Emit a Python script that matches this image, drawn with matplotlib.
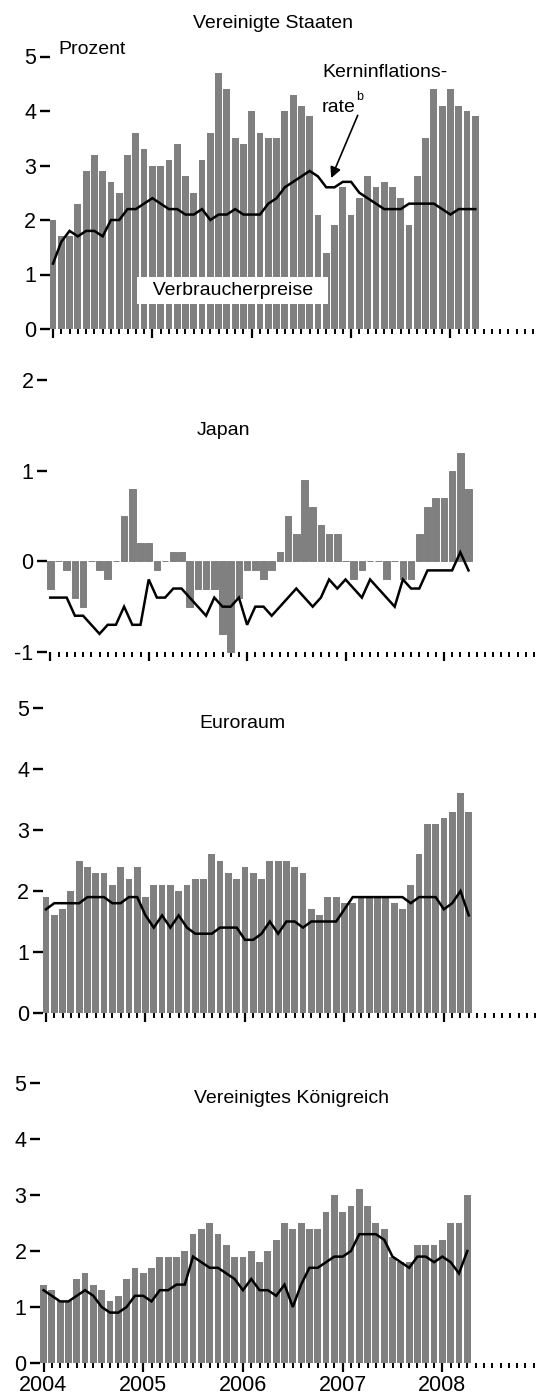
import numpy as np
import matplotlib
matplotlib.use("Agg")
import matplotlib.pyplot as plt
from matplotlib import font_manager

# ---------------- data (monthly, Jan 2004 - Apr 2008) ----------------
years = ["2004", "2005", "2006", "2007", "2008"]

us_cpi = [2.0, 1.7, 1.7, 2.3, 2.9, 3.2, 2.9, 2.7, 2.5, 3.2, 3.6, 3.3,
          3.0, 3.0, 3.1, 3.4, 2.8, 2.5, 3.1, 3.6, 4.7, 4.4, 3.5, 3.4,
          4.0, 3.6, 3.5, 3.5, 4.0, 4.3, 4.1, 3.9, 2.1, 1.4, 1.9, 2.6,
          2.1, 2.4, 2.8, 2.6, 2.7, 2.6, 2.4, 1.9, 2.8, 3.5, 4.4, 4.1,
          4.4, 4.1, 4.0, 3.9]
us_core = [1.2, 1.6, 1.8, 1.7, 1.8, 1.8, 1.7, 2.0, 2.0, 2.2, 2.2, 2.3,
           2.4, 2.3, 2.2, 2.2, 2.1, 2.1, 2.2, 2.0, 2.1, 2.1, 2.2, 2.1,
           2.1, 2.1, 2.3, 2.4, 2.6, 2.7, 2.8, 2.9, 2.8, 2.6, 2.6, 2.7,
           2.7, 2.5, 2.4, 2.3, 2.2, 2.2, 2.2, 2.3, 2.3, 2.3, 2.3, 2.2,
           2.1, 2.2, 2.2, 2.2]

jp_cpi = [-0.3, 0.0, -0.1, -0.4, -0.5, 0.0, -0.1, -0.2, 0.0, 0.5, 0.8, 0.2,
          0.2, -0.1, 0.0, 0.1, 0.1, -0.5, -0.3, -0.3, -0.3, -0.8, -1.0, -0.4,
          -0.1, -0.1, -0.2, -0.1, 0.1, 0.5, 0.3, 0.9, 0.6, 0.4, 0.3, 0.3,
          0.0, -0.2, -0.1, 0.0, 0.0, -0.2, 0.0, -0.2, -0.2, 0.3, 0.6, 0.7,
          0.7, 1.0, 1.2, 0.8]
jp_core = [-0.4, -0.4, -0.4, -0.6, -0.6, -0.7, -0.8, -0.7, -0.7, -0.5, -0.7, -0.7,
           -0.2, -0.4, -0.4, -0.3, -0.3, -0.4, -0.5, -0.6, -0.4, -0.5, -0.5, -0.4,
           -0.7, -0.5, -0.5, -0.6, -0.5, -0.4, -0.3, -0.4, -0.5, -0.4, -0.2, -0.3,
           -0.2, -0.3, -0.4, -0.2, -0.3, -0.4, -0.5, -0.2, -0.3, -0.3, -0.1, -0.1,
           -0.1, -0.1, 0.1, -0.1]

ea_cpi = [1.9, 1.6, 1.7, 2.0, 2.5, 2.4, 2.3, 2.3, 2.1, 2.4, 2.2, 2.4,
          1.9, 2.1, 2.1, 2.1, 2.0, 2.1, 2.2, 2.2, 2.6, 2.5, 2.3, 2.2,
          2.4, 2.3, 2.2, 2.5, 2.5, 2.5, 2.4, 2.3, 1.7, 1.6, 1.9, 1.9,
          1.8, 1.8, 1.9, 1.9, 1.9, 1.9, 1.8, 1.7, 2.1, 2.6, 3.1, 3.1,
          3.2, 3.3, 3.6, 3.3]
ea_core = [1.7, 1.8, 1.8, 1.8, 1.8, 1.9, 1.9, 1.9, 1.8, 1.8, 1.9, 1.9,
           1.6, 1.4, 1.6, 1.4, 1.6, 1.4, 1.3, 1.3, 1.3, 1.4, 1.4, 1.4,
           1.2, 1.2, 1.3, 1.5, 1.3, 1.5, 1.5, 1.4, 1.5, 1.5, 1.5, 1.5,
           1.7, 1.9, 1.9, 1.9, 1.9, 1.9, 1.9, 1.9, 1.8, 1.9, 1.9, 1.9,
           1.7, 1.8, 2.0, 1.6]

uk_cpi = [1.4, 1.3, 1.1, 1.1, 1.5, 1.6, 1.4, 1.3, 1.1, 1.2, 1.5, 1.7,
          1.6, 1.7, 1.9, 1.9, 1.9, 2.0, 2.3, 2.4, 2.5, 2.3, 2.1, 1.9,
          1.9, 2.0, 1.8, 2.0, 2.2, 2.5, 2.4, 2.5, 2.4, 2.4, 2.7, 3.0,
          2.7, 2.8, 3.1, 2.8, 2.5, 2.4, 1.9, 1.8, 1.8, 2.1, 2.1, 2.1,
          2.2, 2.5, 2.5, 3.0]
uk_core = [1.3, 1.2, 1.1, 1.1, 1.2, 1.3, 1.2, 1.0, 0.9, 0.9, 1.0, 1.2,
           1.2, 1.1, 1.3, 1.3, 1.4, 1.4, 1.9, 1.8, 1.7, 1.7, 1.6, 1.5,
           1.3, 1.5, 1.3, 1.3, 1.2, 1.4, 1.0, 1.4, 1.7, 1.7, 1.8, 1.9,
           1.9, 2.0, 2.3, 2.3, 2.3, 2.2, 1.9, 1.8, 1.7, 1.9, 1.9, 1.8,
           1.9, 1.8, 1.6, 2.0]

titles = ["Vereinigte Staaten", "Japan", "Euroraum", "Vereinigtes Königreich"]

# ---------------- style ----------------
names = {f.name for f in font_manager.fontManager.ttflist}
if "Liberation Sans Narrow" in names:
    FONT, FS, TFS = "Liberation Sans Narrow", 16.5, 17
else:
    FONT, FS, TFS = "Liberation Sans", 14, 15.5
plt.rcParams["font.family"] = [FONT, "DejaVu Sans"]
plt.rcParams["axes.unicode_minus"] = False

W, H = 540, 1400
BAR = "#808080"
fig = plt.figure(figsize=(W / 100, H / 100), dpi=100)


def px_axes(x0, ppm, ybot, ytop, ylim):
    xl, xr = -0.42, 59.6
    left = x0 + xl * ppm
    width = (xr - xl) * ppm
    ax = fig.add_axes([left / W, 1 - ybot / H, width / W, (ybot - ytop) / H])
    ax.set_xlim(xl, xr)
    ax.set_ylim(*ylim)
    for s in ax.spines.values():
        s.set_visible(False)
    ax.set_xticks([0, 12, 24, 36, 48])
    ax.set_xticks([m for m in range(60) if m % 12 != 0], minor=True)
    ax.tick_params(axis="x", which="major", length=6.5, width=1.6,
                   direction="out", labelbottom=False)
    ax.tick_params(axis="x", which="minor", length=3.8, width=1.4,
                   direction="out")
    ax.tick_params(axis="y", which="major", length=7.2, width=1.7,
                   direction="out", pad=2.5, labelsize=TFS)
    return ax


def panel(ax, cpi, core, zero_edges=False):
    m = np.arange(len(cpi))
    if zero_edges:
        ax.bar(m, cpi, width=0.82, color=BAR, edgecolor=BAR, linewidth=0.7,
               zorder=2, clip_on=False)
    else:
        ax.bar(m, cpi, width=0.82, color=BAR, linewidth=0, zorder=2,
               clip_on=False)
    ax.plot(m, core, color="black", lw=1.8, zorder=3, solid_joinstyle="miter")


def ftext(x, y, s, **kw):
    fig.text(x / W, 1 - y / H, s, fontsize=kw.pop("fontsize", FS), **kw)


# --- United States ---
ax1 = px_axes(53, 8.28, 329, 56.5, (0, 5))
panel(ax1, us_cpi, us_core)
ax1.set_yticks([0, 1, 2, 3, 4, 5])
ax1.text(0.6, 5.05, "Prozent", fontsize=FS, ha="left", va="baseline")
ax1.text(32.5, 4.62, "Kerninflations-", fontsize=FS, ha="left", va="baseline")
ax1.text(32.5, 3.98, "rate", fontsize=FS, ha="left", va="baseline")
ax1.text(36.6, 4.2, "b", fontsize=FS * 0.65, ha="left", va="baseline")
ax1.annotate("", xy=(33.6, 2.77), xytext=(36.8, 3.92),
             arrowprops=dict(arrowstyle="-|>", color="black", lw=1.2,
                             mutation_scale=16, shrinkA=0, shrinkB=0),
             zorder=5)
ax1.text(21.7, 0.70, "  Verbraucherpreise  ", fontsize=FS, ha="center",
         va="center", zorder=6,
         bbox=dict(boxstyle="square,pad=0.25", fc="white", ec="none"))
ftext(273, 28, titles[0], ha="center", va="baseline")

# --- Japan ---
ax2 = px_axes(50.3, 8.2, 652, 380, (-1, 2))
panel(ax2, jp_cpi, jp_core, zero_edges=True)
ax2.set_yticks([-1, 0, 1, 2])
ftext(223.5, 435, titles[1], ha="center", va="baseline")

# --- Euro area ---
ax3 = px_axes(46, 8.29, 1013, 708, (0, 5))
panel(ax3, ea_cpi, ea_core)
ax3.set_yticks([0, 1, 2, 3, 4, 5])
ftext(242.5, 728, titles[2], ha="center", va="baseline")

# --- United Kingdom ---
ax4 = px_axes(43.5, 8.31, 1363, 1083, (0, 5))
panel(ax4, uk_cpi, uk_core)
ax4.set_yticks([0, 1, 2, 3, 4, 5])
ax4.set_xticklabels(years)
ax4.tick_params(axis="x", which="major", labelbottom=True, labelsize=TFS, pad=2)
ftext(291.5, 1103, titles[3], ha="center", va="baseline")

fig.savefig("out.png", dpi=100)
